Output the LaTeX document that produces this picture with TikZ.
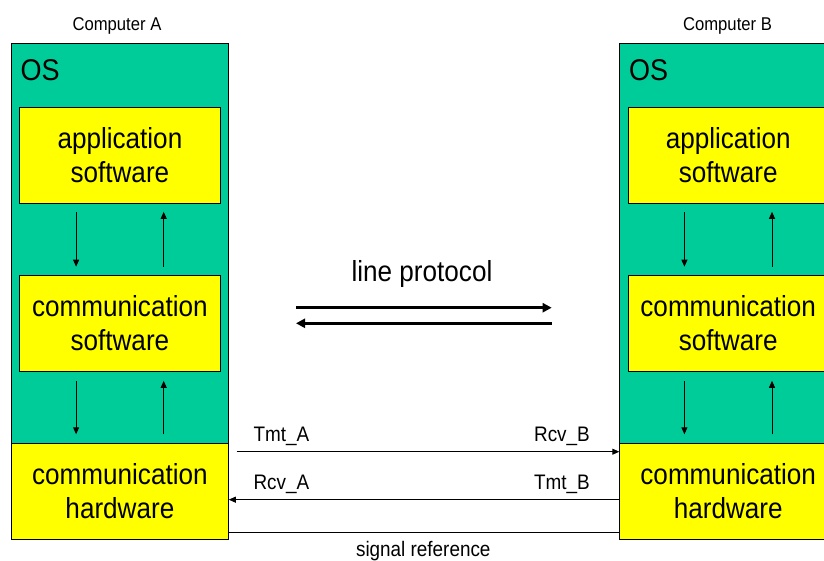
\documentclass[tikz,border=0pt]{standalone}
\usepackage{fontspec}
\setmainfont{Liberation Sans}[FakeStretch=0.9]
\usetikzlibrary{arrows.meta,calc}
\definecolor{osgreen}{RGB}{0,204,153}
\definecolor{boxyellow}{RGB}{255,255,0}
\tikzset{
  osbox/.style={draw=black, line width=0.8pt, fill=osgreen, anchor=north west,
    minimum width=217pt, minimum height=400pt, inner sep=0pt},
  swbox/.style={draw=black, line width=0.8pt, fill=boxyellow, anchor=north west,
    minimum width=200.4pt, minimum height=95.7pt, inner sep=0pt, align=center,
    font=\fontsize{29}{34}\selectfont},
  hwbox/.style={swbox, minimum width=217pt, minimum height=95.7pt},
  oslabel/.style={anchor=base west, inner sep=0pt, font=\fontsize{30}{34}\selectfont},
  title/.style={anchor=base, inner sep=0pt, font=\fontsize{18.5}{22}\selectfont},
  siglabel/.style={inner sep=0pt, font=\fontsize{21}{25}\selectfont},
  biglabel/.style={anchor=base, inner sep=0pt, font=\fontsize{29}{34}\selectfont},
  varrow/.style={line width=0.9pt, -{Triangle[length=7pt,width=6pt]}},
  harrow/.style={line width=0.9pt, -{Triangle[length=7pt,width=6pt]}},
  plainline/.style={line width=0.9pt},
  protoarrow/.style={line width=3pt, -{Triangle[length=9pt,width=9pt]}},
}
\begin{document}
\begin{tikzpicture}[x=1pt,y=-1pt]
\useasboundingbox (0,0) rectangle (824,560);
\clip (0,0) rectangle (824,560);

% Computer A
\node[title] (titleA) at (117,30) {Computer A};
\node[osbox] (osA) at (11,43.3) {};
\node[hwbox] (hwA) at (11,443.3) {communication\\hardware};
\node[swbox] (appA) at (19.3,107.3) {application\\software};
\node[swbox] (csA) at (19.3,275.3) {communication\\software};
\node[oslabel] (osLabelA) at (20.5,80) {OS};

% Computer B
\node[title] (titleB) at (727.5,30) {Computer B};
\node[osbox] (osB) at (619.3,43.3) {};
\node[hwbox] (hwB) at (619.3,443.3) {communication\\hardware};
\node[swbox] (appB) at (627.6,107.3) {application\\software};
\node[swbox] (csB) at (627.6,275.3) {communication\\software};
\node[oslabel] (osLabelB) at (628.8,80) {OS};

% vertical arrows A
\draw[varrow] ([xshift=-43.8pt,yshift=-8pt]appA.south) -- ([xshift=-43.8pt,yshift=8.6pt]csA.north);
\draw[varrow] ([xshift=43.8pt,yshift=8.6pt]csA.north) -- ([xshift=43.8pt,yshift=-8pt]appA.south);
\draw[varrow] ([xshift=-43.8pt,yshift=-9pt]csA.south) -- ([xshift=-43.8pt,yshift=9pt]hwA.north);
\draw[varrow] ([xshift=43.8pt,yshift=9pt]hwA.north) -- ([xshift=43.8pt,yshift=-9pt]csA.south);

% vertical arrows B
\draw[varrow] ([xshift=-43.8pt,yshift=-8pt]appB.south) -- ([xshift=-43.8pt,yshift=8.6pt]csB.north);
\draw[varrow] ([xshift=43.8pt,yshift=8.6pt]csB.north) -- ([xshift=43.8pt,yshift=-8pt]appB.south);
\draw[varrow] ([xshift=-43.8pt,yshift=-9pt]csB.south) -- ([xshift=-43.8pt,yshift=9pt]hwB.north);
\draw[varrow] ([xshift=43.8pt,yshift=9pt]hwB.north) -- ([xshift=43.8pt,yshift=-9pt]csB.south);

% line protocol
\node[biglabel] (lineproto) at (422,281) {line protocol};
\coordinate (pL1) at (296,307.7);
\coordinate (pR1) at (551.7,307.7);
\coordinate (pL2) at (296,323.3);
\coordinate (pR2) at (551.7,323.3);
\draw[protoarrow] (pL1) -- (pR1);
\draw[protoarrow] (pR2) -- (pL2);

% signal lines
\draw[harrow] ([shift={(7.7pt,-8.4pt)}]hwA.north east) coordinate (tA) -- (tA -| hwB.west);
\draw[harrow] ([yshift=-8.1pt]hwB.west) coordinate (tB) -- (tB -| hwA.east);
\draw[plainline] ([yshift=7.3pt]hwA.south east) -- ([yshift=7.3pt]hwB.south west);

\node[siglabel, anchor=base west] (tmtA) at (253.3,441) {Tmt\_A};
\node[siglabel, anchor=base east] (rcvB) at (590,441) {Rcv\_B};
\node[siglabel, anchor=base west] (rcvA) at (253.3,489) {Rcv\_A};
\node[siglabel, anchor=base east] (tmtB) at (590,489) {Tmt\_B};
\node[siglabel, anchor=base] (sigref) at (423.3,556) {signal reference};
\end{tikzpicture}
\end{document}
